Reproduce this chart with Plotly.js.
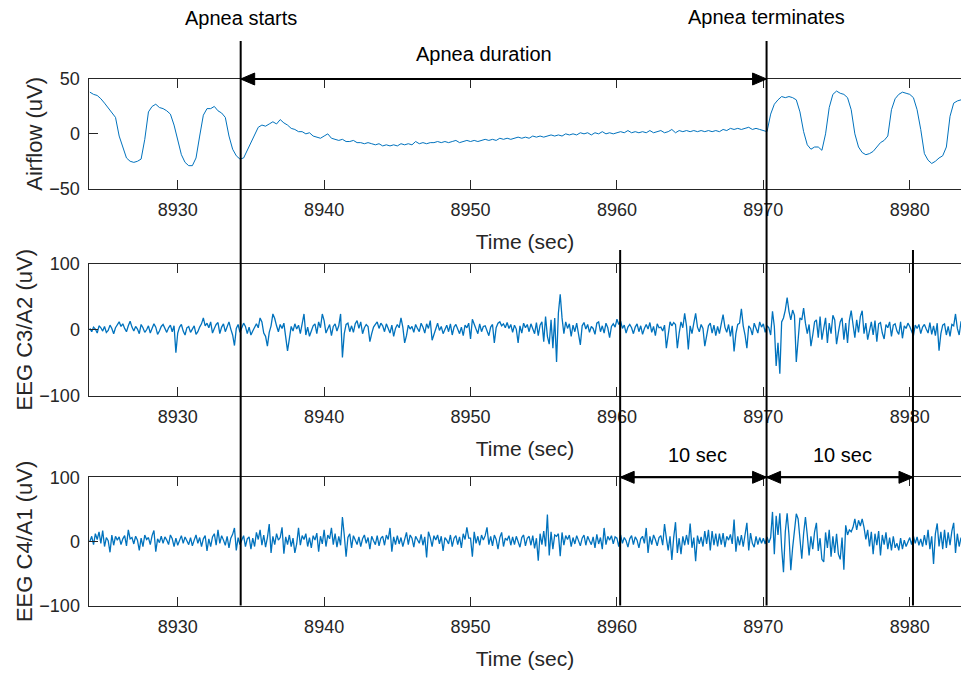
<!DOCTYPE html>
<html><head><meta charset="utf-8">
<script src="https://cdn.plot.ly/plotly-3.0.1.min.js"></script>
<style>html,body{margin:0;padding:0;background:#fff}#chart{width:961px;height:673px}</style>
</head><body><div id="chart"></div>
<script>
// ---- data ----
const T0 = 8924;          // time of first sample (sec)
const AIR_DT = 0.25;      // airflow sample step (sec)
const EEG_DT = 0.125;     // EEG sample step (sec)

// Airflow (uV), every 0.25 s from 8924.0
const airflow = [
38,36,35,32,28,24,20,15,
-2,-12,-22,-25,-26,-25,-23,-5,
20,25,27,24,23,21,18,8,
-6,-19,-26,-29,-29,-22,-2,17,
23,23,25,21,19,15,-2,-14,
-20,-23,-22,-15,-8,-1,6,8,
7,9,11,9,13,10,8,5,
4,2,2,0,1,-2,-3,-4,
-2,0,-4,-5,-6,-5,-7,-7,
-6,-8,-8,-9,-8,-9,-10,-9,
-11,-10,-11,-10,-11,-9,-10,-9,
-10,-7,-9,-8,-9,-8,-8,-7,
-8,-7,-8,-7,-6,-8,-7,-6,
-7,-6,-7,-6,-5,-6,-5,-6,
-4,-5,-4,-5,-4,-3,-4,-3,
-4,-2,-3,-2,-3,-2,-1,-2,
-1,-2,0,-1,0,-1,1,0,
1,-1,1,0,2,0,1,0,
1,2,1,3,1,2,1,2,
1,3,1,2,3,1,2,4,
1,3,2,3,2,3,2,3,
2,3,2,3,2,4,3,5,
4,5,4,5,6,4,5,4,
3,2,18,27,31,34,33,34,
33,31,20,2,-10,-14,-12,-12,
-15,0,24,36,39,37,36,33,
22,0,-12,-17,-19,-18,-16,-12,
-8,-6,-2,22,32,36,38,37,
36,33,22,4,-18,-24,-27,-25,
-22,-20,-12,16,28,30,31];

// EEG C3/A2 (uV), every 0.125 s from 8924.0 (one row per second)
const eegC3A2 = [
2,-3,4,1,-5,6,3,-2,
5,-4,-1,7,2,-6,3,8,
12,5,9,2,-3,6,13,4,
-2,5,1,-6,8,3,-4,0,
6,-5,2,9,4,-7,-2,5,
8,1,-4,3,7,-3,6,-35,
-5,4,8,-2,-8,3,5,-4,
1,6,-7,-3,4,9,18,6,
10,3,12,-5,2,8,11,-6,
4,9,-3,6,12,1,-8,-24,
2,8,-4,3,10,5,-6,4,
-8,-2,5,9,3,18,12,-5,
-10,-25,-4,6,24,17,6,-3,
8,2,10,-12,-32,-14,5,-2,
9,1,7,-6,12,24,-8,4,
-10,-2,6,9,-6,12,3,24,
14,-5,3,8,-9,5,9,-2,
6,24,-42,-6,8,10,-3,6,
-4,9,14,2,12,-6,3,8,
5,-18,-6,4,8,12,2,10,
6,-3,9,1,-5,7,-10,2,
8,3,18,4,-20,-9,7,1,
5,-4,8,2,-3,10,4,-5,
9,2,14,-16,-6,3,10,-1,
5,-6,2,7,-3,9,-8,4,
8,1,-6,4,-9,7,3,10,
-14,16,7,1,-6,9,-3,5,
6,-2,-9,4,8,-20,3,10,
12,6,9,3,11,2,8,-4,
7,1,-20,6,-5,10,3,8,
-3,9,2,-6,11,-9,7,12,
-18,20,-10,-22,15,-28,18,-49,
25,54,18,-6,12,2,9,-10,
7,-3,10,-8,-23,6,11,1,
8,-4,5,2,-7,10,12,-3,
6,-5,10,3,-12,5,9,4,
16,8,13,2,7,-5,4,8,
3,-6,4,9,-3,6,-7,2,
8,1,11,-4,5,-9,9,3,
4,-2,7,-28,-4,12,6,11,
8,-28,-5,12,3,25,6,-30,
6,-6,10,25,4,-3,8,2,
-25,-8,6,10,-5,7,-9,5,
-6,9,23,4,-4,8,-10,6,
-33,-6,8,10,32,6,-8,-28,
6,2,-8,10,3,-5,12,4,
9,-4,6,3,-8,28,5,-55,
-20,-67,12,18,30,49,28,15,
30,22,-49,-10,18,15,33,10,
-6,8,-25,-8,12,15,-12,20,
-15,2,18,-20,10,-6,22,15,
-22,-4,12,18,-15,10,-20,14,
29,8,-12,15,-4,20,29,-6,
10,-15,2,12,-8,14,-18,9,
11,-5,-14,8,3,12,-10,7,
9,-2,-7,12,-13,6,2,10,
5,-3,-9,7,2,8,-6,4,
8,1,-5,11,-7,6,-9,10,
-32,-6,7,9,-8,5,-10,8,
6,24,2,-8,12,15,5,-3];

// EEG C4/A1 (uV), every 0.125 s from 8924.0 (one row per second)
const eegC4A1 = [
0,8,-5,12,3,15,-3,17,
-8,6,1,-17,10,-6,8,2,
7,-5,4,9,-7,18,4,6,
-4,8,2,-14,5,-8,10,3,
6,-5,9,17,-16,4,-2,8,
-3,7,2,-5,10,4,-8,5,
-6,3,9,-3,7,1,-5,6,
-7,2,10,-3,6,-8,4,9,
-15,4,-8,7,12,-6,18,-3,
9,2,-6,8,-10,5,11,21,
-14,6,-5,2,9,-8,4,7,
-12,5,-8,14,3,18,-6,10,
-9,6,27,-18,8,-5,12,2,
6,22,-19,7,-5,10,-8,5,
-18,-4,21,-6,9,3,12,-8,
6,-10,9,2,13,-16,8,-4,
18,-8,10,4,21,-5,12,-9,
8,-6,38,10,-24,6,12,-10,
9,2,-5,7,-8,4,10,-3,
6,-12,8,1,-5,9,-7,5,
8,-6,10,3,21,-16,7,-5,
9,-4,6,-8,2,14,-5,10,
5,-9,8,1,-3,11,-6,7,
-25,15,6,-8,9,2,10,-4,
8,-15,6,2,-4,10,-8,5,
9,-5,7,-10,12,3,22,5,
5,-24,15,-3,8,-6,10,2,
9,22,-5,8,-7,10,3,-12,
6,14,-8,5,2,9,-6,7,
-5,8,1,-9,6,10,-7,5,
8,-6,9,-11,5,-30,12,-5,
16,-8,42,-22,15,-12,10,8,
12,-23,14,-6,9,3,10,-8,
6,-4,9,2,-7,5,10,-6,
8,1,-5,7,-10,11,-4,6,
-12,21,-5,8,2,9,-4,7,
5,-8,10,-3,6,1,-9,4,
9,-5,7,2,-10,4,8,-3,
21,-18,8,-5,10,3,-7,6,
9,-6,27,5,-14,8,-29,6,
30,-18,5,-20,8,-6,10,-5,
28,-10,6,-31,9,-4,7,-8,
16,-4,18,-14,16,-6,12,-8,
12,-5,13,-9,8,2,11,-4,
34,-16,8,-6,10,-8,14,29,
-14,13,-3,-9,8,-5,6,-3,
5,-4,7,-2,6,46,-20,40,
10,44,-10,-48,15,44,10,-45,
-10,20,43,35,5,-27,12,38,
10,-22,8,-12,15,29,-15,5,
-28,-32,14,-10,18,-24,8,-18,
12,-20,-28,6,-44,25,10,18,
15,22,35,18,33,24,35,22,
3,18,-8,15,-20,12,-6,16,
-22,10,-5,14,-12,6,-14,8,
-10,-3,-14,5,-12,2,-8,-2,
6,-5,8,-3,7,-6,4,-8,
10,-6,18,-12,8,-35,12,28,
-8,15,-12,18,-10,14,-6,16,
29,-18,12,-8,6,-4,10,-5];

const timeTicks = [8930, 8940, 8950, 8960, 8970, 8980];
const airTicks = [-50, 0, 50];
const eegTicks = [-100, 0, 100];
const timeRange = [8923.94, 8983.5];
const airRange = [-50, 50];
const eegRange = [-100, 100];
const apneaStart = 8934.3;
const apneaEnd = 8970.22;
const windowSec = 10;

const labels = {
  time: 'Time (sec)',
  air: 'Airflow (uV)',
  c3: 'EEG C3/A2 (uV)',
  c4: 'EEG C4/A1 (uV)',
  start: 'Apnea starts',
  end: 'Apnea terminates',
  dur: 'Apnea duration',
  win: '10 sec'
};

// ---- layout helpers ----
const W = 961, H = 673;
const py = p => 1 - p / H;
const FONT = 'Liberation Sans, Arial, Helvetica, sans-serif';
const AX = '#262626';
const LINE = '#0072BD';

function xAxis(anchor) {
  return {
    anchor: anchor, domain: [0, 1], range: timeRange,
    tickmode: 'array', tickvals: timeTicks,
    ticks: 'inside', ticklen: 9, tickwidth: 1, tickcolor: AX,
    showline: true, linewidth: 1.5, linecolor: AX, mirror: 'ticks',
    showgrid: false, zeroline: false,
    tickfont: {family: FONT, size: 18, color: AX},
    ticklabelstandoff: 4,
    title: {text: labels.time, font: {family: FONT, size: 21, color: AX}, standoff: 15}
  };
}
function yAxis(anchor, dom, range, ticks, title) {
  return {
    anchor: anchor, domain: dom, range: range,
    tickmode: 'array', tickvals: ticks,
    ticks: 'inside', ticklen: 9, tickwidth: 1, tickcolor: AX,
    showline: true, linewidth: 1.5, linecolor: AX, mirror: false,
    showgrid: false, zeroline: false,
    tickfont: {family: FONT, size: 18, color: AX},
    ticklabelstandoff: 4,
    title: {text: title, font: {family: FONT, size: 22, color: AX}, standoff: 0}
  };
}

const traces = [
  {type: 'scatter', mode: 'lines', x0: T0, dx: AIR_DT, y: airflow,
   xaxis: 'x', yaxis: 'y', line: {color: LINE, width: 1}, hoverinfo: 'skip'},
  {type: 'scatter', mode: 'lines', x0: T0, dx: EEG_DT, y: eegC3A2,
   xaxis: 'x2', yaxis: 'y2', line: {color: LINE, width: 1.3}, hoverinfo: 'skip'},
  {type: 'scatter', mode: 'lines', x0: T0, dx: EEG_DT, y: eegC4A1,
   xaxis: 'x3', yaxis: 'y3', line: {color: LINE, width: 1.3}, hoverinfo: 'skip'}
];

const K = '#000000';
function vline(x, pTop, pBot) {
  return {type: 'line', xref: 'x', yref: 'paper', x0: x, x1: x, y0: py(pBot), y1: py(pTop),
          line: {color: K, width: 2}};
}
function hline(xa, xb, p) {
  return {type: 'line', xref: 'x', yref: 'paper', x0: xa, x1: xb, y0: py(p), y1: py(p),
          line: {color: K, width: 2}};
}
function head(x, p, dir) { // dir -1: points left, +1: points right
  const L = 14 * -dir, h = 6;
  return {type: 'path', xref: 'x', yref: 'paper', xsizemode: 'pixel', ysizemode: 'pixel',
          xanchor: x, yanchor: py(p),
          path: `M0,0 L${L},${h} L${L},${-h} Z`,
          fillcolor: K, line: {color: K, width: 1}};
}

const topAx = 79, bot3 = 605.5, arrowY2 = 477.3;
const shapes = [
  vline(apneaStart, 41, bot3),
  vline(apneaEnd, 41, bot3),
  vline(apneaEnd - windowSec, 250, bot3),
  vline(apneaEnd + windowSec, 250, bot3),
  hline(apneaStart, apneaEnd, topAx),
  head(apneaStart, topAx, -1), head(apneaEnd, topAx, 1),
  hline(apneaEnd - windowSec, apneaEnd, arrowY2),
  hline(apneaEnd, apneaEnd + windowSec, arrowY2),
  head(apneaEnd - windowSec, arrowY2, -1), head(apneaEnd, arrowY2, 1),
  head(apneaEnd, arrowY2, -1), head(apneaEnd + windowSec, arrowY2, 1)
];

function note(text, x, p, xshift) {
  return {text: text, xref: 'x', yref: 'paper', x: x, y: py(p), xshift: xshift || 0,
          showarrow: false, xanchor: 'center', yanchor: 'middle',
          font: {family: FONT, size: 20, color: K}};
}
const annotations = [
  note(labels.start, apneaStart, 18),
  note(labels.end, apneaEnd, 17),
  note(labels.dur, (apneaStart + apneaEnd) / 2, 54, -20),
  note(labels.win, apneaEnd - windowSec / 2, 455, 4),
  note(labels.win, apneaEnd + windowSec / 2, 455, 3)
];

const layout = {
  width: W, height: H,
  margin: {l: 89, r: 0, t: 0, b: 0},
  paper_bgcolor: '#fff', plot_bgcolor: '#fff',
  showlegend: false,
  font: {family: FONT, color: AX},
  xaxis: xAxis('y'), xaxis2: xAxis('y2'), xaxis3: xAxis('y3'),
  yaxis: yAxis('x', [py(188.7), py(79)], airRange, airTicks, labels.air),
  yaxis2: yAxis('x2', [py(395.5), py(264)], eegRange, eegTicks, labels.c3),
  yaxis3: yAxis('x3', [py(605.5), py(477.3)], eegRange, eegTicks, labels.c4),
  shapes: shapes, annotations: annotations
};

Plotly.newPlot('chart', traces, layout, {staticPlot: true, displayModeBar: false});
</script></body></html>
